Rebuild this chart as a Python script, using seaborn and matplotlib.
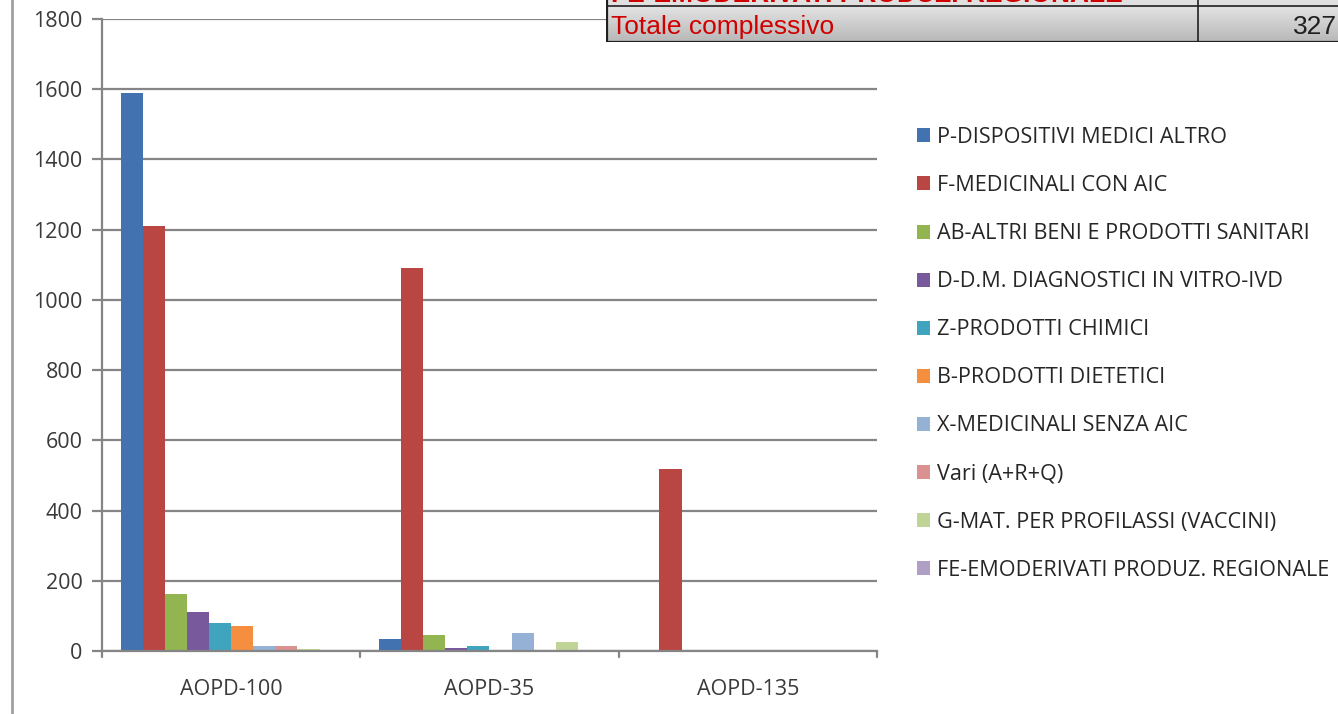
#!/usr/bin/env python3
import pandas as pd
import numpy as np
from matplotlib import pyplot as plt
from matplotlib.patches import Rectangle
from matplotlib.lines import Line2D
import seaborn as sns

categories = ["AOPD-100", "AOPD-35", "AOPD-135"]
series = [
    "P-DISPOSITIVI MEDICI ALTRO",
    "F-MEDICINALI CON AIC",
    "AB-ALTRI BENI E PRODOTTI SANITARI",
    "D-D.M. DIAGNOSTICI IN VITRO-IVD",
    "Z-PRODOTTI CHIMICI",
    "B-PRODOTTI DIETETICI",
    "X-MEDICINALI SENZA AIC",
    "Vari (A+R+Q)",
    "G-MAT. PER PROFILASSI (VACCINI)",
    "FE-EMODERIVATI PRODUZ. REGIONALE",
]
p_dispositivi = [1590, 34, 0]
f_medicinali = [1210, 1090, 518]
ab_altri = [163, 45, 0]
d_diagnostici = [112, 8, 0]
z_chimici = [80, 14, 0]
b_dietetici = [71, 0, 0]
x_senza_aic = [14, 52, 0]
vari = [13, 0, 0]
g_vaccini = [5, 26, 0]
fe_emoderivati = [3, 3, 0]
colors = ["#4272B0", "#BA4643", "#93B551", "#77599C", "#41A4BF",
          "#F58E3E", "#95B1D6", "#D99290", "#C0D497", "#B09FC5"]

FS = 15.5
FONT = ["Open Sans", "DejaVu Sans"]

def main():
    vals = [p_dispositivi, f_medicinali, ab_altri, d_diagnostici, z_chimici,
            b_dietetici, x_senza_aic, vari, g_vaccini, fe_emoderivati]
    rows = []
    for s, v in zip(series, vals):
        for c, y in zip(categories, v):
            rows.append({"cat": c, "serie": s, "val": y})
    df = pd.DataFrame(rows)

    sns.set_style("white")
    plt.rcParams['font.family'] = FONT
    W, H = 1338, 714
    fig = plt.figure(figsize=(W / 100, H / 100), dpi=100)
    ax = fig.add_axes([102 / W, 1 - 651 / H, (877 - 102) / W, (651 - 19) / H])

    sns.barplot(data=df, x="cat", y="val", hue="serie", order=categories,
                hue_order=series, palette=colors, width=0.855, gap=0,
                saturation=1, ax=ax, legend=True, edgecolor="none")

    ax.set_xlim(-0.5, 2.5)
    ax.set_ylim(0, 1800)
    ax.set_yticks(np.arange(0, 1801, 200))
    ax.grid(axis="y", color="#858585", linewidth=1.6)
    ax.set_axisbelow(True)
    ax.set_xlabel("")
    ax.set_ylabel("")
    for s in ["top", "right"]:
        ax.spines[s].set_visible(False)
    for s in ["left", "bottom"]:
        ax.spines[s].set_color("#858585")
        ax.spines[s].set_linewidth(1.6)
    ax.tick_params(axis="y", length=7, width=1.6, color="#858585",
                   labelsize=FS, labelcolor="#3A3A3A", pad=7, left=True)
    ax.set_xticks([0, 1, 2])
    ax.set_xticklabels(categories)
    ax.tick_params(axis="x", length=0, labelsize=FS, labelcolor="#3A3A3A", pad=20)
    for xb in [-0.5, 0.5, 1.5, 2.5]:
        ax.plot([xb, xb], [0, -18], color="#858585", lw=1.6, clip_on=False,
                transform=ax.transData)

    handles, labels = ax.get_legend_handles_labels()
    ax.legend(handles, labels, loc="upper left",
              bbox_to_anchor=(917 / W, 1 - 127 / H), bbox_transform=fig.transFigure,
              frameon=False, fontsize=15.6, handlelength=0.62, handleheight=0.62,
              handletextpad=0.3, labelspacing=1.25, borderaxespad=0, borderpad=0)

    # chart area border on the left
    fig.add_artist(Line2D([12 / W, 12 / W], [0, 1], color="#A0A0A0", lw=2.0))

    # fragment of the table pasted over the chart
    tb = fig.add_axes([606 / W, 1 - 42 / H, (W - 606) / W, 42 / H])
    tb.set_xlim(606, W)
    tb.set_ylim(42, 0)
    tb.axis("off")
    grad = np.linspace(0.89, 0.72, 50).reshape(-1, 1)
    tb.imshow(np.dstack([grad, grad, grad]), extent=[606, W, 42, 6], aspect="auto")
    tb.add_patch(Rectangle((606, 0), W - 606, 6, color="#E0E0E0", zorder=0))
    tb.plot([606, W], [5.5, 5.5], color="#202020", lw=1.2)
    tb.plot([606, W], [41.5, 41.5], color="#202020", lw=1.6)
    tb.plot([607, 607], [0, 42], color="#202020", lw=1.6)
    tb.plot([1198, 1198], [0, 42], color="#202020", lw=1.2)
    tb.text(611, 34, "Totale complessivo", color="#D00000", fontsize=19,
            family=["Liberation Sans"], va="baseline", ha="left")
    tb.text(1337, 34, "327", color="#202020", fontsize=19,
            family=["Liberation Sans"], va="baseline", ha="right", clip_on=False)
    tb.text(611, 2, "FE-EMODERIVATI PRODUZ. REGIONALE", color="#D00000",
            fontsize=19, fontweight="bold", family=["Liberation Sans"],
            va="baseline", ha="left", clip_on=True)

    fig.savefig("out.png", dpi=100)

if __name__ == '__main__':
    main()
